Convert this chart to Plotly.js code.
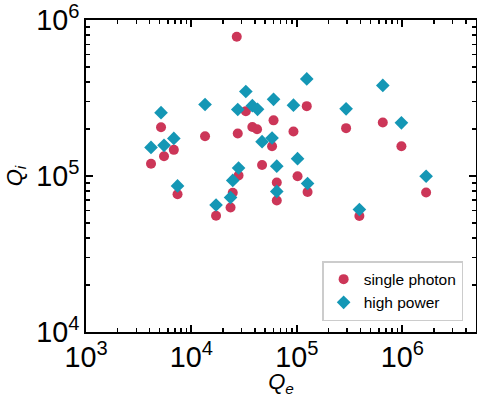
<!DOCTYPE html>
<html>
<head>
<meta charset="utf-8">
<script src="https://cdn.plot.ly/plotly-3.0.1.min.js"></script>
<style>html,body{margin:0;padding:0;background:#fff;}#chart{width:477px;height:397px;}</style>
</head>
<body>
<div id="chart"></div>
<script>
// Single photon measurements (Qe, Qi)
const spQe = [4137, 5148, 5495, 6808, 7382, 13460, 17120, 23500, 24650, 26910, 27500, 27990, 32810, 37820, 41930, 46760, 58170, 60090, 64470, 64470, 92830, 101500, 124100, 126300, 293000, 391700, 653100, 980600, 1682000];
const spQi = [120000, 205300, 134100, 147200, 76460, 180200, 55680, 62850, 78190, 781200, 187500, 100800, 260700, 206500, 199800, 117700, 155400, 227600, 90920, 69680, 193100, 99770, 280700, 79110, 202800, 55510, 220600, 155400, 78400];
// High power measurements (Qe, Qi)
const hpQe = [4137, 5148, 5495, 6808, 7382, 13460, 17120, 23500, 24650, 27500, 27990, 32810, 37820, 42380, 46760, 58170, 60090, 64470, 64470, 92830, 101500, 124100, 126300, 293000, 391700, 653100, 980600, 1682000];
const hpQi = [152700, 255000, 157300, 174400, 86460, 287800, 65190, 72840, 93780, 267300, 112600, 348700, 282800, 267700, 166200, 175400, 310300, 115700, 79700, 284900, 129200, 419500, 89590, 269700, 61020, 381100, 219300, 99770];

const seriesNames = ['single photon', 'high power'];
const xRange = [1e3, 5e6];
const yRange = [1e4, 1.0015e6];

const FONT = 'Liberation Sans, Arial, Helvetica, sans-serif';

const traces = [
  {x: spQe, y: spQi, mode: 'markers', type: 'scatter', name: seriesNames[0],
   marker: {symbol: 'circle', size: 10, color: '#CC3658', line: {width: 0}}},
  {x: hpQe, y: hpQi, mode: 'markers', type: 'scatter', name: seriesNames[1],
   marker: {symbol: 'diamond', size: 10.5, color: '#1497B5', line: {width: 0}}}
];

const axisCommon = {
  type: 'log',
  showgrid: false,
  zeroline: false,
  showline: true,
  linecolor: '#000',
  linewidth: 2,
  mirror: 'ticks',
  ticks: 'inside',
  ticklen: 7,
  tickwidth: 2,
  tickcolor: '#000',
  dtick: 1,
  exponentformat: 'power',
  showexponent: 'all',
  tickfont: {family: FONT, size: 23, color: '#000'},
  minor: {ticks: 'inside', ticklen: 4, tickwidth: 1.5, tickcolor: '#000', dtick: 'D1', showgrid: false}
};

const layout = {
  width: 477, height: 397,
  margin: {l: 86, r: 1, t: 20, b: 65},
  paper_bgcolor: '#fff', plot_bgcolor: '#fff',
  font: {family: FONT, color: '#000'},
  showlegend: true,
  xaxis: Object.assign({}, axisCommon, {
    range: [Math.log10(xRange[0]), Math.log10(xRange[1])],
    title: {text: '<i>Q</i><sub><i>e</i></sub>', font: {family: FONT, size: 22, color: '#000'}, standoff: 12}
  }),
  yaxis: Object.assign({}, axisCommon, {
    range: [Math.log10(yRange[0]), Math.log10(yRange[1])],
    title: {text: '<i>Q</i><sub><i>i</i></sub>', font: {family: FONT, size: 22, color: '#000'}, standoff: 8}
  }),
  legend: {
    x: 0.967, y: 0.035, xanchor: 'right', yanchor: 'bottom',
    bgcolor: '#fff', bordercolor: '#cccccc', borderwidth: 1.5,
    font: {family: FONT, size: 15.5, color: '#000'},
    itemwidth: 30, tracegroupgap: 0
  }
};

Plotly.newPlot('chart', traces, layout, {displayModeBar: false, staticPlot: true});
</script>
</body>
</html>
